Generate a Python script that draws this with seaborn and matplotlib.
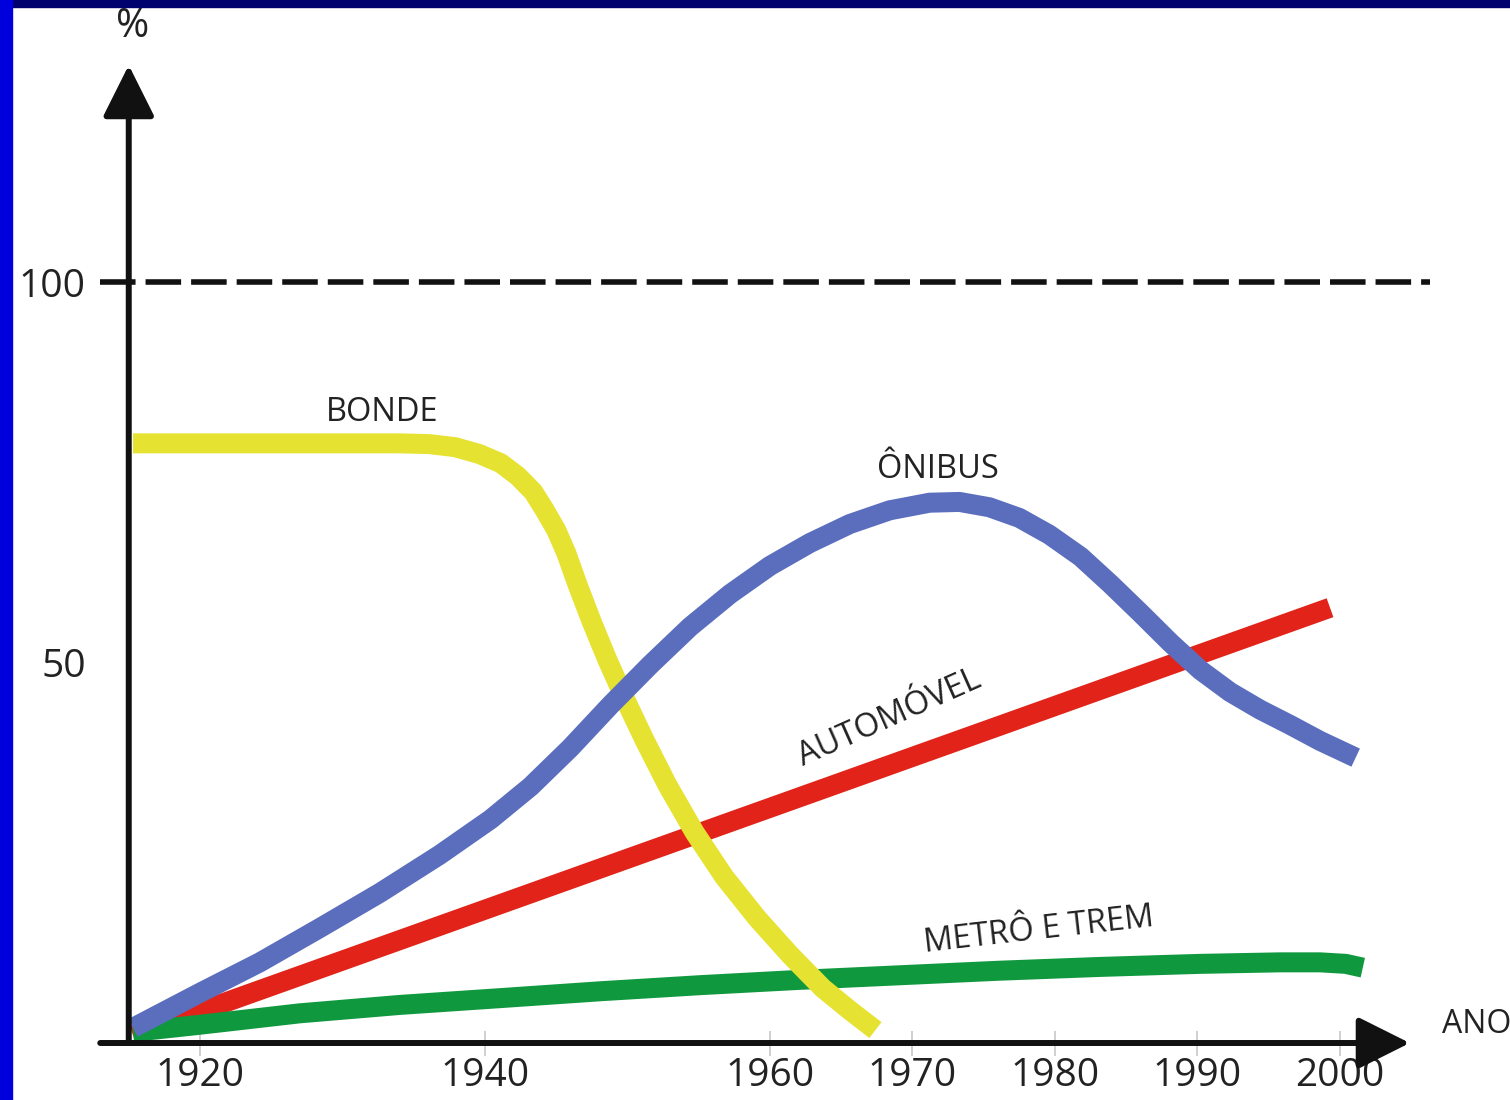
import matplotlib
matplotlib.use("Agg")
import matplotlib.pyplot as plt
import numpy as np
import pandas as pd
import seaborn as sns
from matplotlib.patches import Rectangle

# ---------------- data ----------------
bonde_years = [1915.3, 1927.0, 1934.0, 1936.1, 1937.9, 1939.6, 1941.1, 1942.3, 1943.4,
               1944.2, 1945.0, 1945.7, 1946.5, 1947.5, 1948.6, 1949.8, 1951.2, 1952.8,
               1954.7, 1956.8, 1959.1, 1961.4, 1963.7, 1965.6, 1967.4]
bonde_pct = [78.8, 78.8, 78.8, 78.7, 78.3, 77.4, 76.2, 74.5, 72.4,
             70.0, 67.4, 64.4, 60.2, 55.3, 50.3, 45.3, 39.8, 33.9,
             27.7, 21.8, 16.4, 11.6, 7.2, 4.3, 1.7]

onibus_years = [1915.3, 1920.0, 1924.2, 1928.4, 1932.6, 1936.8, 1940.4, 1943.2, 1946.0,
                1948.8, 1951.6, 1954.4, 1957.2, 1960.0, 1962.8, 1965.6, 1968.4, 1971.2,
                1973.3, 1975.4, 1977.5, 1979.6, 1981.8, 1983.9, 1986.0, 1988.1, 1990.2,
                1992.3, 1994.4, 1996.5, 1998.6, 2001.1]
onibus_pct = [2.0, 6.6, 10.6, 15.1, 19.7, 24.7, 29.4, 33.7, 38.8,
              44.4, 49.7, 54.7, 59.0, 62.7, 65.7, 68.2, 70.0, 71.0,
              71.1, 70.4, 69.0, 66.8, 63.9, 60.3, 56.5, 52.6, 49.0,
              46.1, 43.8, 41.8, 39.7, 37.5]

auto_years = [1915.3, 1999.3]
auto_pct = [1.0, 57.2]

metro_years = [1915.3, 1920.0, 1927.0, 1934.0, 1941.1, 1948.1, 1955.1, 1962.1, 1969.1,
               1976.1, 1983.2, 1990.2, 1995.8, 1998.6, 2000.4, 2001.6]
metro_pct = [1.45, 2.4, 3.9, 5.0, 5.9, 6.8, 7.6, 8.3, 8.9,
             9.5, 10.0, 10.4, 10.6, 10.6, 10.4, 9.9]

series_names = ["AUTOMÓVEL", "METRÔ E TREM", "BONDE", "ÔNIBUS"]
series_colors = ["#E2231A", "#0F983E", "#E6E232", "#5B6EBE"]

x_ticks = [1920, 1940, 1960, 1970, 1980, 1990, 2000]
x_tick_labels = ["1920", "1940", "1960", "1970", "1980", "1990", "2000"]
y_ticks = [50, 100]
y_tick_labels = ["50", "100"]

# ---------------- build long table ----------------
frames = []
for name, yrs, vals in [("AUTOMÓVEL", auto_years, auto_pct),
                        ("METRÔ E TREM", metro_years, metro_pct),
                        ("BONDE", bonde_years, bonde_pct),
                        ("ÔNIBUS", onibus_years, onibus_pct)]:
    frames.append(pd.DataFrame({"Ano": yrs, "Pct": vals, "Modo": name}))
df = pd.concat(frames, ignore_index=True)

sns.set_theme(style="white")
plt.rcParams["font.family"] = ["Open Sans", "DejaVu Sans"]

fig = plt.figure(figsize=(15.1, 11), dpi=100)
fig.patch.set_facecolor("white")
ax = fig.add_axes([0, 0, 1, 1])
ax.set_facecolor("none")

sns.lineplot(data=df, x="Ano", y="Pct", hue="Modo", hue_order=series_names,
             palette=dict(zip(series_names, series_colors)), linewidth=14.4,
             estimator=None, sort=False, legend=False, ax=ax)
for i, ln in enumerate(ax.get_lines()):
    ln.set_solid_capstyle("butt")
    ln.set_solid_joinstyle("round")
    ln.set_zorder(3 + i)

# limits mapped so the chart sits like the reference
ax.set_xlim(1905.965, 2011.93)
ax.set_ylim(-7.49, 137.06)

# axes
for s in ax.spines.values():
    s.set_visible(False)
ax.spines["bottom"].set_position(("data", 0))
ax.spines["left"].set_position(("data", 1915))

ax.set_xticks(x_ticks)
ax.set_xticklabels(x_tick_labels)
ax.set_yticks(y_ticks)
ax.set_yticklabels(y_tick_labels)
ax.tick_params(axis="x", bottom=True, direction="inout", length=18, width=1.2,
               color="#c8c8c8", labelsize=28, pad=1, labelcolor="#222222")
ax.tick_params(axis="y", left=True, length=0, pad=31, labelsize=28,
               labelcolor="#222222")
ax.grid(False)

# axis arrows
arrow_kw = dict(arrowstyle="-|>,head_length=1.0,head_width=0.5", mutation_scale=32,
                lw=4.3, color="#111111", shrinkA=0, shrinkB=0)
ax.annotate("", xy=(2004.9, 0), xytext=(1913.0, 0), arrowprops=arrow_kw, zorder=10)
ax.annotate("", xy=(1915, 128.5), xytext=(1915, 0), arrowprops=arrow_kw, zorder=10)

# 100% dashed line
ax.plot([1913.0, 2006.3], [100, 100], color="#111111", lw=4, dashes=(6.4, 1.8),
        solid_capstyle="butt", dash_capstyle="butt", zorder=2)

# labels
lab_kw = dict(ha="center", va="center", fontsize=23.5, color="#222222", zorder=20)
ax.text(1932.8, 82.8, "BONDE", **lab_kw)
ax.text(1971.8, 75.3, "ÔNIBUS", **lab_kw)
ax.text(1968.4, 42.7, "AUTOMÓVEL", rotation=24, rotation_mode="anchor", **lab_kw)
ax.text(1978.9, 14.8, "METRÔ E TREM", rotation=6.5, rotation_mode="anchor", **lab_kw)
ax.text(1915.3, 133.6, "%", ha="center", va="center", fontsize=29, color="#222222")
ax.text(2009.6, 2.4, "ANO", ha="center", va="center", fontsize=23, color="#222222")

# frame bars
fig.add_artist(Rectangle((0, 1 - 7 / 1100), 1, 7 / 1100, transform=fig.transFigure,
                         color="#00006E", zorder=50))
fig.add_artist(Rectangle((0, 0), 12 / 1510, 1, transform=fig.transFigure,
                         color="#0000DC", zorder=51))

fig.savefig("out.png", dpi=100)
